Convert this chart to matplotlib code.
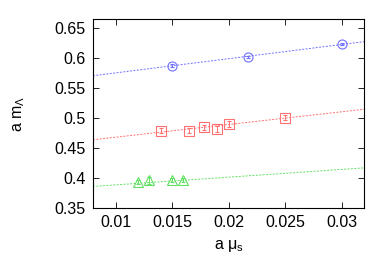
import matplotlib
matplotlib.use("Agg")
import matplotlib.pyplot as plt
import numpy as np

plt.rcParams["font.family"] = ["Liberation Sans", "DejaVu Sans"]
plt.rcParams["mathtext.fontset"] = "custom"
plt.rcParams["mathtext.rm"] = "Liberation Sans"
plt.rcParams["mathtext.it"] = "Liberation Sans"

# data
mu_lambda_b = [0.015, 0.0217, 0.030]
m_lambda_b = [0.588, 0.602, 0.624]
err_b = [0.002, 0.002, 0.002]

mu_lambda_r = [0.014, 0.0165, 0.0178, 0.019, 0.020, 0.025]
m_lambda_r = [0.479, 0.479, 0.485, 0.4825, 0.491, 0.501]
err_r = [0.004, 0.004, 0.004, 0.005, 0.005, 0.004]

mu_lambda_g = [0.012, 0.013, 0.015, 0.016]
m_lambda_g = [0.393, 0.396, 0.397, 0.397]
err_g = [0.003, 0.006, 0.003, 0.003]

# linear fits: intercept, slope
fit_b = (0.552, 2.375)
fit_r = (0.447, 2.125)
fit_g = (0.3757, 1.29)

colors = ["#7070ff", "#ff7070", "#60e060"]
markers = ["o", "s", "^"]

fig = plt.figure(figsize=(3.92, 2.74), dpi=100)
ax = fig.add_axes([0.237, 0.241, 0.692, 0.690])

xs = np.array([0.008, 0.032])
sets = [
    (mu_lambda_b, m_lambda_b, err_b, fit_b),
    (mu_lambda_r, m_lambda_r, err_r, fit_r),
    (mu_lambda_g, m_lambda_g, err_g, fit_g),
]
for (x, y, e, fit), c, m in zip(sets, colors, markers):
    ax.plot(xs, fit[0] + fit[1] * xs, ls=(0, (2, 1.5)), lw=0.7, color=c)
    ax.errorbar(x, y, yerr=e, fmt=m, ms=6.5, mfc="none", mec=c, mew=0.8,
                ecolor=c, elinewidth=0.7, capsize=1.5, capthick=0.7)

ax.set_xlim(0.008, 0.032)
ax.set_ylim(0.35, 0.666)
ax.set_xticks([0.01, 0.015, 0.02, 0.025, 0.03])
ax.set_xticklabels(["0.01", "0.015", "0.02", "0.025", "0.03"])
ax.set_yticks([0.35, 0.4, 0.45, 0.5, 0.55, 0.6, 0.65])
ax.set_yticklabels(["0.35", "0.4", "0.45", "0.5", "0.55", "0.6", "0.65"])
ax.tick_params(direction="in", top=True, right=True, labelsize=11.5, length=4, width=0.6, pad=5)
for s in ax.spines.values():
    s.set_linewidth(0.8)

ax.set_xlabel(r"a $\mathrm{\mu_s}$", fontsize=11.5, labelpad=6)
ax.set_ylabel(r"a $\mathrm{m_\Lambda}$", fontsize=11.5, labelpad=20)

fig.savefig("out.png", dpi=100)
